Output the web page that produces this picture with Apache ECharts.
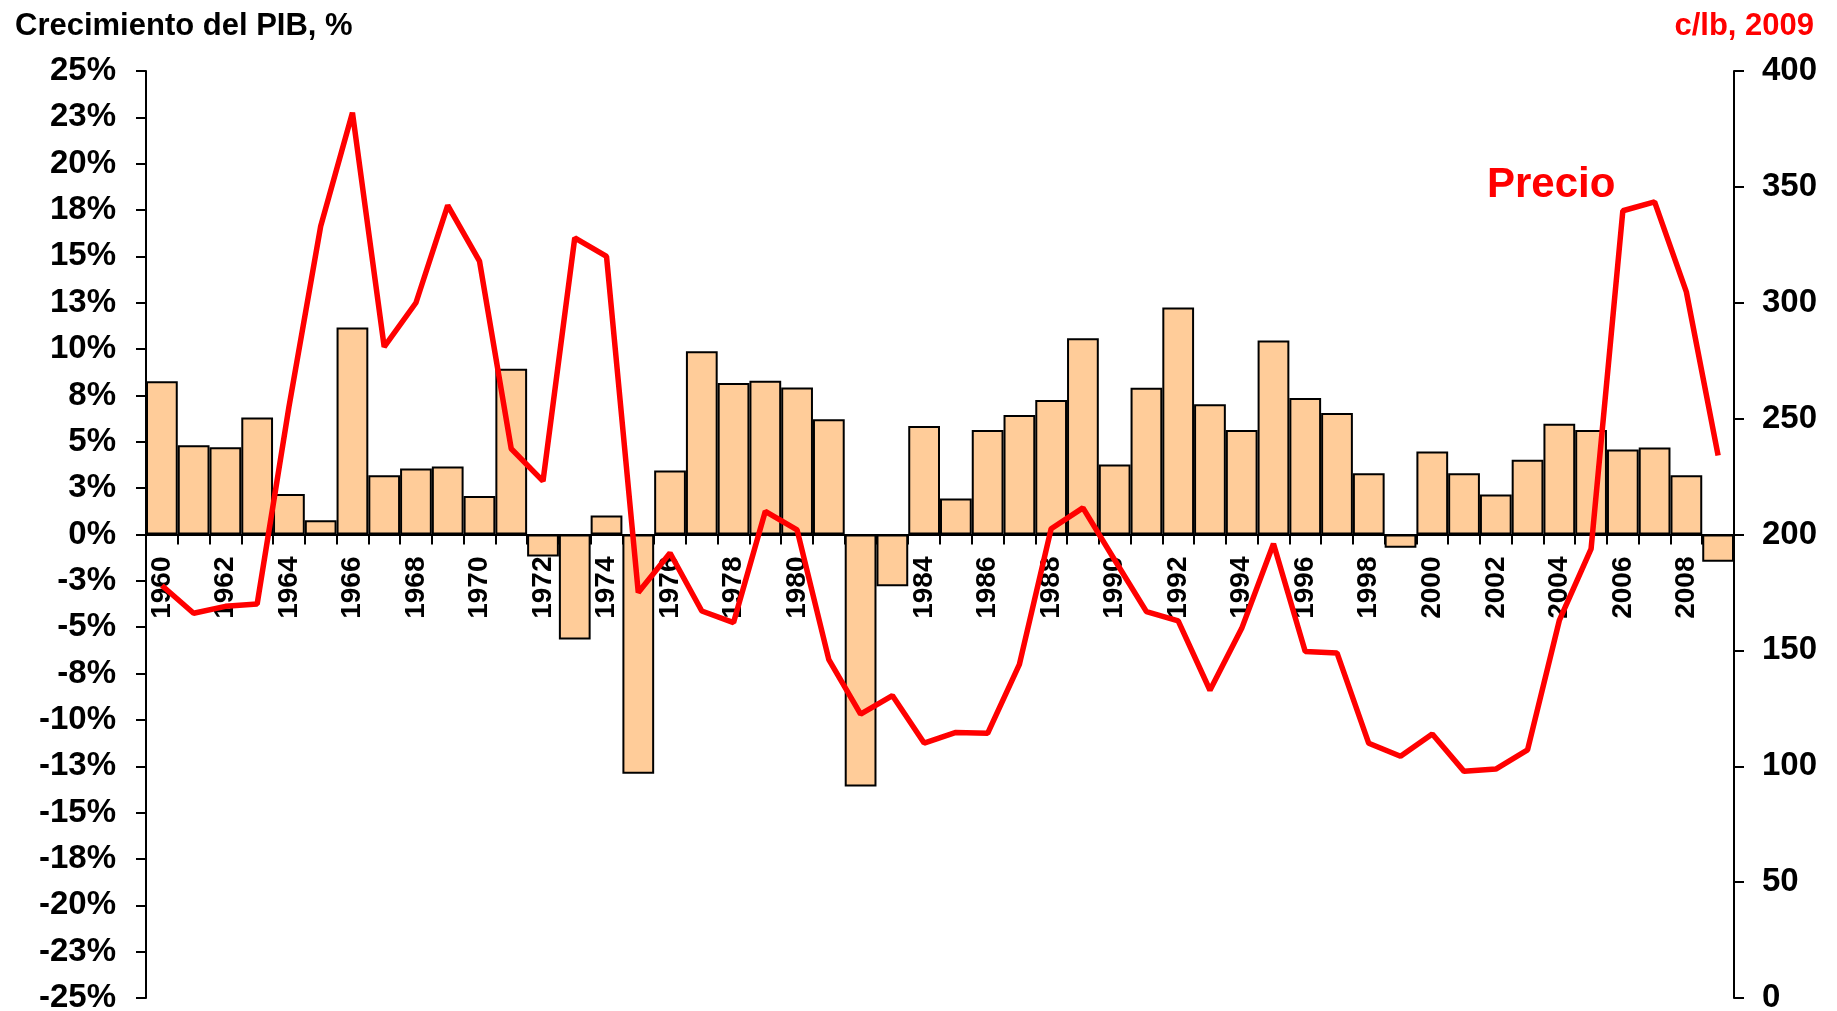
<!DOCTYPE html>
<html><head><meta charset="utf-8">
<script src="https://cdn.jsdelivr.net/npm/echarts@6/dist/echarts.min.js"></script>
<style>html,body{margin:0;padding:0;background:#fff}#c{width:1837px;height:1011px}</style>
</head><body><div id="c"></div>
<script>
const years = ['1960','1961','1962','1963','1964','1965','1966','1967','1968','1969',
  '1970','1971','1972','1973','1974','1975','1976','1977','1978','1979',
  '1980','1981','1982','1983','1984','1985','1986','1987','1988','1989',
  '1990','1991','1992','1993','1994','1995','1996','1997','1998','1999',
  '2000','2001','2002','2003','2004','2005','2006','2007','2008','2009'];
const gdpGrowth = [8.27, 4.82, 4.71, 6.31, 2.18, 0.77, 11.17, 3.20, 3.56, 3.67,
  2.07, 8.94, -1.19, -5.67, 1.03, -12.9, 3.45, 9.89, 8.17, 8.29,
  7.93, 6.21, -13.59, -2.79, 5.85, 1.94, 5.63, 6.44, 7.25, 10.59,
  3.78, 7.91, 12.24, 7.03, 5.63, 10.47, 7.36, 6.56, 3.31, -0.72,
  4.48, 3.31, 2.16, 4.03, 5.97, 5.63, 4.59, 4.69, 3.20, -1.47];
const price = [178, 166, 169, 170, 255, 333, 382, 281, 300, 342,
  318, 237, 223, 328, 320, 175, 192, 167, 162, 210,
  202, 146, 122.5, 130.5, 110, 114.6, 114.2, 144, 202.5, 211.5,
  189, 166.7, 162.7, 132.8, 159.5, 196, 149.5, 148.9, 109.9, 104.3,
  113.9, 97.8, 98.8, 107.1, 162.9, 193.8, 339.7, 343.5, 304.7, 234.1];
const gdpTickLabels = ['-25%','-23%','-20%','-18%','-15%','-13%','-10%','-8%','-5%','-3%','0%',
  '3%','5%','8%','10%','13%','15%','18%','20%','23%','25%'];

const FONT = '"Liberation Sans", Arial, sans-serif';
const chart = echarts.init(document.getElementById('c'), null, {renderer: 'canvas'});
const option = {
  animation: false,
  backgroundColor: '#fff',
  textStyle: {fontFamily: FONT},
  title: [
    {text: 'Crecimiento del PIB, %', left: 10, top: 6,
     textStyle: {fontFamily: FONT, fontSize: 31, fontWeight: 'bold', color: '#000'}},
    {text: 'c/lb, 2009', right: 18, top: 6,
     textStyle: {fontFamily: FONT, fontSize: 31, fontWeight: 'bold', color: '#ff0000'}}
  ],
  grid: {left: 146, right: 103, top: 71, bottom: 13, containLabel: false, outerBoundsMode: 'none'},
  xAxis: {
    type: 'category', data: years, position: 'bottom', offset: 0,
    axisLine: {onZero: false, lineStyle: {color: '#000', width: 2}},
    axisTick: {show: true, interval: 0, length: 10, inside: false, lineStyle: {color: '#000', width: 2}},
    axisLabel: {interval: 1, rotate: 90, margin: 22, color: '#000', fontSize: 28,
      fontWeight: 'bold', fontFamily: FONT},
    splitLine: {show: false}
  },
  yAxis: [
    {type: 'value', min: -25, max: 25, interval: 2.5, position: 'left',
     axisLine: {show: true, onZero: false, lineStyle: {color: '#000', width: 2}},
     axisTick: {show: true, length: 10, lineStyle: {color: '#000', width: 2}},
     axisLabel: {margin: 30, color: '#000', fontSize: 33, fontWeight: 'bold', fontFamily: FONT,
       formatter: function (v) { return gdpTickLabels[Math.round((v + 25) / 2.5)]; }},
     splitLine: {show: false}},
    {type: 'value', min: 0, max: 400, interval: 50, position: 'right',
     axisLine: {show: true, onZero: false, lineStyle: {color: '#000', width: 2}},
     axisTick: {show: true, length: 10, lineStyle: {color: '#000', width: 2}},
     axisLabel: {margin: 28, color: '#000', fontSize: 33, fontWeight: 'bold', fontFamily: FONT},
     splitLine: {show: false}}
  ],
  series: [
    {type: 'bar', name: 'PIB', data: gdpGrowth, yAxisIndex: 0,
     barCategoryGap: '0%',
     itemStyle: {color: '#FFCC99', borderColor: '#000', borderWidth: 2}},
    {type: 'line', name: 'Precio', data: price, yAxisIndex: 1,
     symbol: 'none', lineStyle: {color: '#ff0000', width: 5.5}, z: 5}
  ],
  graphic: [
    {type: 'text', left: 1487, top: 164, z: 10,
     style: {text: 'Precio', fill: '#ff0000', font: 'bold 42px ' + FONT}}
  ]
};
chart.setOption(option);
// move the category axis (line, ticks, labels) up to the 0% level of the left axis
const zeroY = chart.convertToPixel({yAxisIndex: 0}, 0);
const bottomY = chart.convertToPixel({yAxisIndex: 0}, -25);
chart.setOption({xAxis: {offset: -(bottomY - zeroY)}});
</script></body></html>
